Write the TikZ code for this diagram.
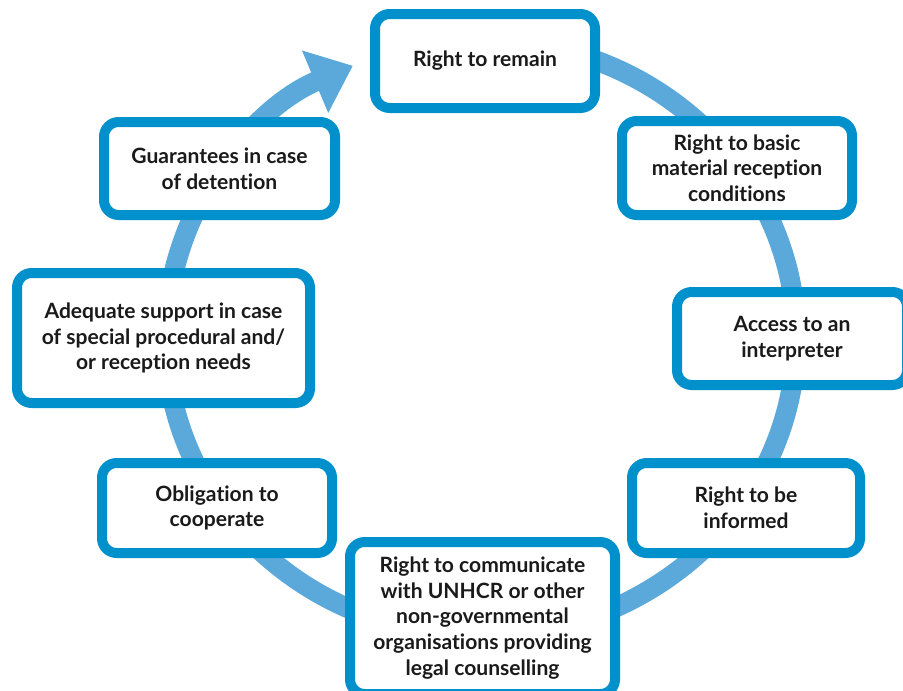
\documentclass[tikz,border=0pt]{standalone}
\usepackage{fontspec}
\setmainfont{Lato}[Ligatures=NoCommon]
\usetikzlibrary{arrows.meta}

\definecolor{ringblue}{HTML}{5BA8DA}
\definecolor{boxblue}{HTML}{0090CB}
\definecolor{inktext}{HTML}{1A1A1A}

\tikzset{every picture/.style={line width=0.75pt}}
\tikzset{rightbox/.style={draw=boxblue, line width=7.5pt, rounded corners=11pt, fill=white, align=center, text=inktext, inner sep=0pt, font=\fontsize{15.8pt}{19.2pt}\selectfont\bfseries}}

\begin{document}
\begin{tikzpicture}[x=0.75pt,y=0.75pt,yscale=-1,xscale=1]
\useasboundingbox (0,0) rectangle (903,690);
\clip (0,0) rectangle (903,690);

%Shape: Arc [ring with arrow]
\draw [ringblue, line width=15pt, -{Triangle[length=30.75pt,width=48.75pt]}] (481,338) ++(-80:315 and 298) arc [start angle=-80, end angle=246, x radius=315, y radius=298] ;

% Text Node
\node [rightbox, minimum width=165pt, minimum height=70.5pt] (remain) at (485,61) {Right to remain};
% Text Node
\node [rightbox, minimum width=172.5pt, minimum height=70.5pt] (basic) at (737,168) {Right to basic\\material reception\\conditions};
% Text Node
\node [rightbox, minimum width=172.5pt, minimum height=69.75pt] (interp) at (792,338.5) {Access to an\\interpreter};
% Text Node
\node [rightbox, minimum width=171pt, minimum height=67.5pt] (informed) at (746,508) {Right to be\\informed};
% Text Node
\node [rightbox, minimum width=198.75pt, minimum height=114pt] (unhcr) at (482.5,618) {Right to communicate\\with UNHCR or other\\non-governmental\\organisations providing\\legal counselling};
% Text Node
\node [rightbox, minimum width=172.5pt, minimum height=67.5pt] (cooperate) at (217,508) {Obligation to\\cooperate};
% Text Node
\node [rightbox, minimum width=219.75pt, minimum height=97.5pt] (support) at (163.5,338) {Adequate support in case\\of special procedural and/\\or reception needs};
% Text Node
\node [rightbox, minimum width=173.25pt, minimum height=69.75pt] (detention) at (219.5,168.5) {Guarantees in case\\of detention};

\end{tikzpicture}
\end{document}
